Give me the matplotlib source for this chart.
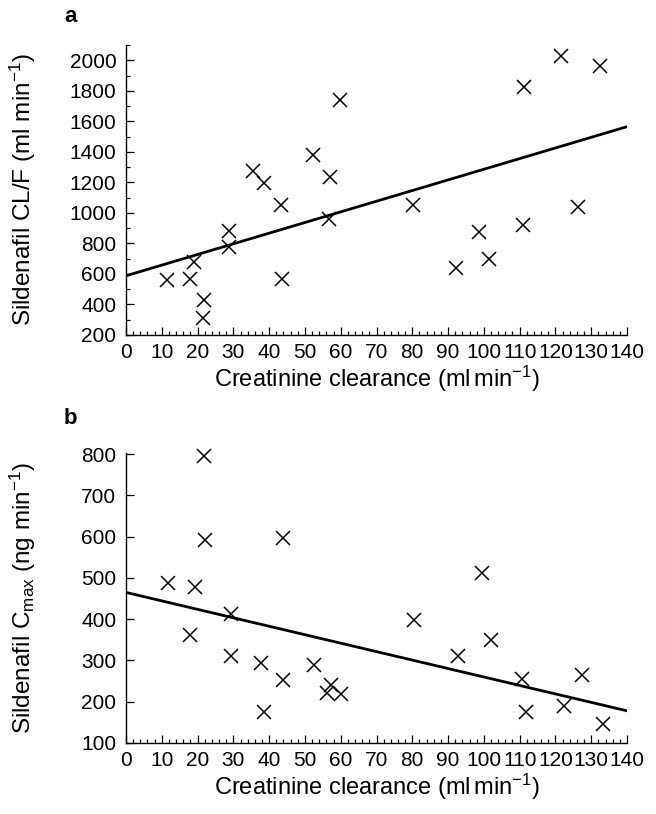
import numpy as np
import matplotlib
matplotlib.use('Agg')
import matplotlib.pyplot as plt
from matplotlib.ticker import MultipleLocator

plt.rcParams['font.family'] = ['Liberation Sans', 'DejaVu Sans']
plt.rcParams['mathtext.fontset'] = 'custom'
plt.rcParams['mathtext.rm'] = 'Liberation Sans'
plt.rcParams['mathtext.it'] = 'Liberation Sans'

# panel a: CL/F vs creatinine clearance
crcl_a = [11.4, 17.9, 19.0, 21.8, 21.6, 28.9, 28.9, 35.6, 38.5, 43.3, 43.5, 52.3,
          56.9, 56.8, 59.9, 80.3, 92.3, 98.6, 101.3, 110.8, 111.2, 121.5, 126.4, 132.5]
clf_a = [561, 565, 681, 430, 314, 884, 775, 1277, 1198, 1052, 565, 1380,
         1238, 958, 1740, 1052, 637, 873, 696, 921, 1823, 2031, 1041, 1965]
fit_a_x = [0, 140]
fit_a_y = [588, 1565]

# panel b: Cmax vs creatinine clearance
crcl_b = [11.7, 19.3, 17.9, 21.8, 22.2, 29.3, 29.3, 37.7, 38.6, 43.9, 43.9, 52.6,
          56.2, 57.3, 60.2, 80.5, 92.9, 99.5, 102.1, 110.6, 111.8, 122.3, 127.3, 133.4]
cmax_b = [487, 479, 363, 795, 591, 412, 312, 293, 175, 598, 252, 288,
          220, 240, 218, 397, 311, 512, 350, 254, 175, 190, 266, 147]
fit_b_x = [0, 140]
fit_b_y = [465, 178]

fig = plt.figure(figsize=(6.56, 8.14), dpi=100)
ax1 = fig.add_axes([126/656, 1-335/814, 501/656, 290/814])
ax2 = fig.add_axes([126/656, 1-743/814, 501/656, 290/814])

def style(ax):
    for s in ['top', 'right']:
        ax.spines[s].set_visible(False)
    ax.spines['left'].set_linewidth(1.0)
    ax.spines['bottom'].set_linewidth(1.0)
    ax.set_xlim(0, 140)
    ax.xaxis.set_major_locator(MultipleLocator(10))
    ax.xaxis.set_minor_locator(MultipleLocator(2))
    ax.tick_params(which='both', direction='in', labelsize=15, width=0.9)
    ax.tick_params(which='major', length=6)
    ax.tick_params(which='minor', length=3)
    ax.tick_params(axis='x', which='major', pad=6)
    ax.tick_params(axis='y', which='major', pad=7)
    ax.set_xlabel(r'Creatinine clearance (ml$\,$min$^{-1}$)', fontsize=17, labelpad=1)

ax1.plot(crcl_a, clf_a, 'x', color='black', markersize=9.5, markeredgewidth=1.1, clip_on=False)
ax1.plot(fit_a_x, fit_a_y, color='black', linewidth=2)
style(ax1)
ax1.set_ylim(200, 2100)
ax1.set_yticks(range(200, 2001, 200))
ax1.yaxis.set_minor_locator(MultipleLocator(100))
ax1.set_ylabel(r'Sildenafil CL/F (ml min$^{-1}$)', fontsize=17.5, va='center')
ax1.yaxis.set_label_coords(-0.206, 0.5)

ax2.plot(crcl_b, cmax_b, 'x', color='black', markersize=9.5, markeredgewidth=1.1, clip_on=False)
ax2.plot(fit_b_x, fit_b_y, color='black', linewidth=2)
style(ax2)
ax2.set_ylim(100, 803)
ax2.set_yticks(range(100, 801, 100))
ax2.yaxis.set_minor_locator(plt.NullLocator())
ax2.set_ylabel(r'Sildenafil C$_{\mathregular{max}}$ (ng min$^{-1}$)', fontsize=17.5, va='center')
ax2.yaxis.set_label_coords(-0.206, 0.5)

fig.text(64/656, 1-16/814, 'a', fontsize=16, fontweight='bold', va='center')
fig.text(64/656, 1-418/814, 'b', fontsize=16, fontweight='bold', va='center')

fig.savefig('out.png', dpi=100)
